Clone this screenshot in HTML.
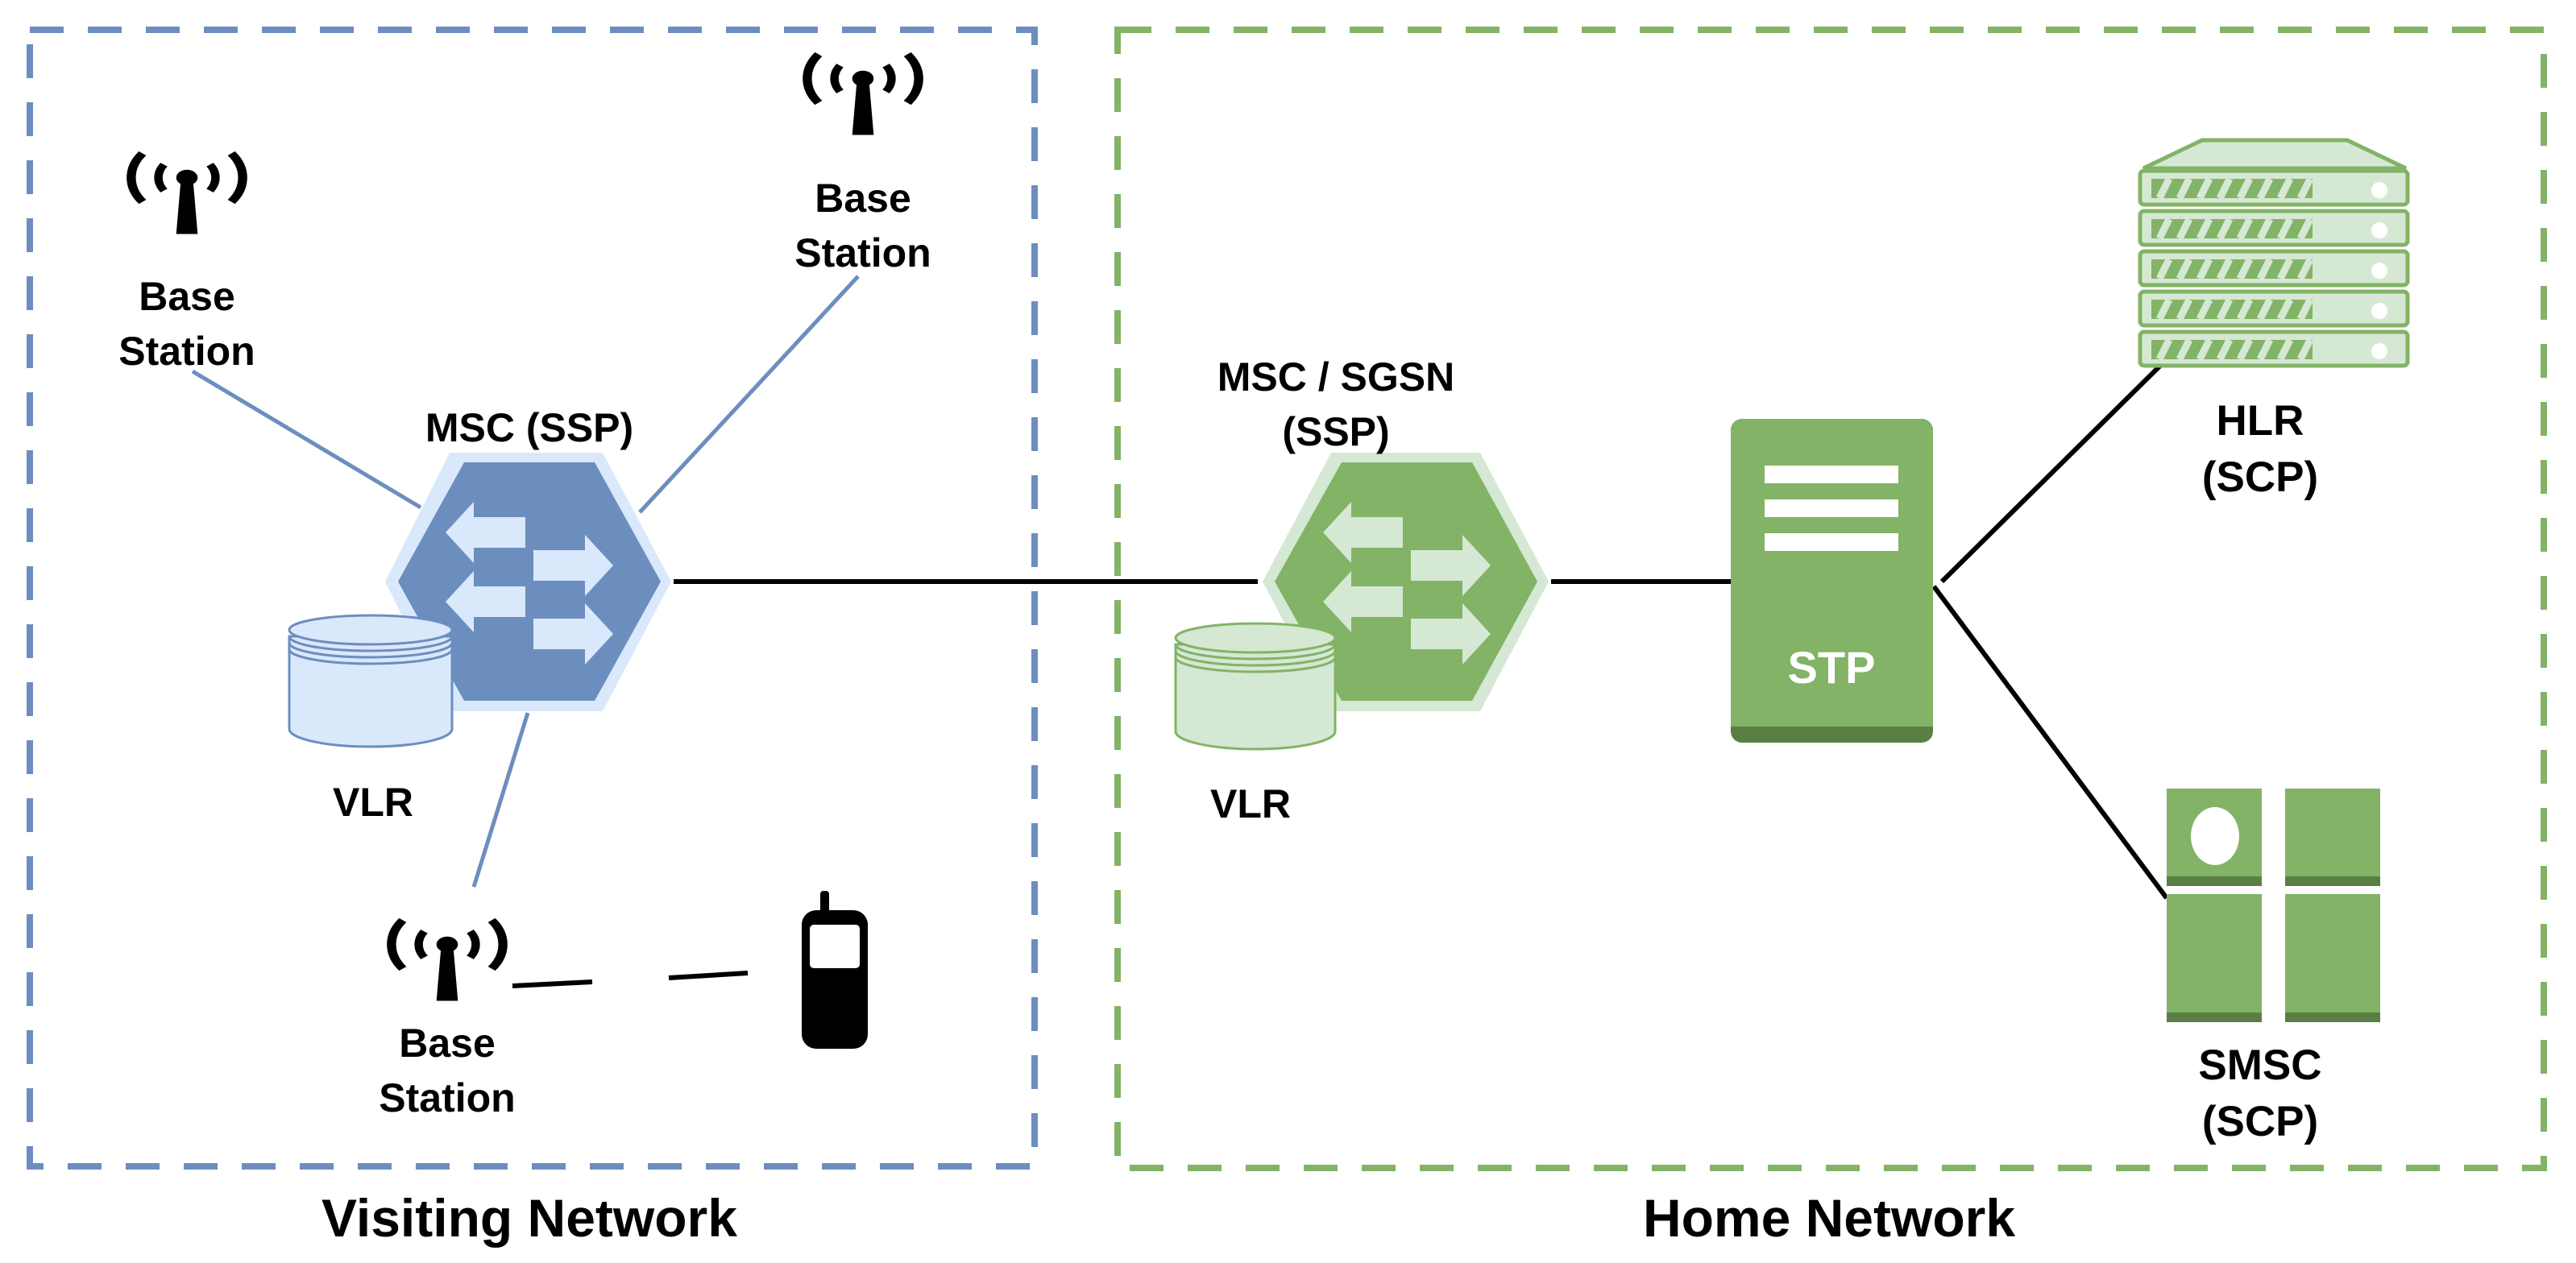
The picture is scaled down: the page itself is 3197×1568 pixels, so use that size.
<!DOCTYPE html>
<html><head><meta charset="utf-8"><style>
html,body{margin:0;padding:0;background:#fff;}
svg{display:block;}
text{font-family:"Liberation Sans",Arial,sans-serif;font-weight:bold;}
</style></head><body>
<svg width="3197" height="1568" viewBox="0 0 3197 1568" xmlns="http://www.w3.org/2000/svg">
<defs>
<g id="ant">
  <path d="M-8,0 L8,0 L14,95 L-14,95 Z" fill="#000"/>
  <circle cx="0" cy="-5" r="14" fill="#000"/>
  <path d="M-30,-28 A40,40 0 0 0 -30,18" fill="none" stroke="#000" stroke-width="11"/>
  <path d="M30,-28 A40,40 0 0 1 30,18" fill="none" stroke="#000" stroke-width="11"/>
  <path d="M-58,-48 A70,70 0 0 0 -58,38" fill="none" stroke="#000" stroke-width="12"/>
  <path d="M58,-48 A70,70 0 0 1 58,38" fill="none" stroke="#000" stroke-width="12"/>
</g>
</defs>

<rect x="37" y="37" width="1247" height="1411" fill="none" stroke="#6c8ebf" stroke-width="8" stroke-dasharray="42,30"/>
<rect x="1387" y="37" width="1770" height="1413" fill="none" stroke="#82b366" stroke-width="8" stroke-dasharray="42,30"/>

<line x1="239" y1="461" x2="522" y2="630" stroke="#6c8ebf" stroke-width="5"/>
<line x1="1065" y1="343" x2="794" y2="636" stroke="#6c8ebf" stroke-width="5"/>
<line x1="655" y1="885" x2="588" y2="1101" stroke="#6c8ebf" stroke-width="5"/>
<line x1="836" y1="722" x2="1561" y2="722" stroke="#000" stroke-width="6"/>
<line x1="1925" y1="722" x2="2150" y2="722" stroke="#000" stroke-width="6"/>
<line x1="2410" y1="722" x2="2683" y2="452" stroke="#000" stroke-width="6"/>
<line x1="2400" y1="728" x2="2689" y2="1115" stroke="#000" stroke-width="6"/>
<line x1="636" y1="1224" x2="735" y2="1219" stroke="#000" stroke-width="6"/>
<line x1="830" y1="1214" x2="928" y2="1208" stroke="#000" stroke-width="6"/>

<use href="#ant" transform="translate(232,224) scale(0.95,0.7)"/>
<use href="#ant" transform="translate(1071,101) scale(0.95,0.7)"/>
<use href="#ant" transform="translate(555,1176) scale(0.95,0.7)"/>

<polygon points="558,562 748,562 833,722 748,883 558,883 478,722" fill="#dae8fc"/>
<polygon points="576,574 738,574 820,722 738,870 576,870 494,722" fill="#6c8ebf"/>
<g fill="#dae8fc">
  <polygon points="553,661 588,623 588,642 652,642 652,680 588,680 588,699"/>
  <polygon points="553,747 588,709 588,728 652,728 652,766 588,766 588,785"/>
  <polygon points="761,702 726,664 726,683 662,683 662,721 726,721 726,740"/>
  <polygon points="761,787 726,749 726,768 662,768 662,806 726,806 726,825"/>
</g>
<path d="M359,790 L359,905 A101,22 0 0 0 561,905 L561,790 Z" fill="#dae8fc" stroke="#6c8ebf" stroke-width="3"/>
<ellipse cx="460" cy="782" rx="101" ry="18" fill="#dae8fc" stroke="#6c8ebf" stroke-width="3"/>
<path d="M359,790 A101,18 0 0 0 561,790 M359,798 A101,18 0 0 0 561,798 M359,806 A101,18 0 0 0 561,806" fill="none" stroke="#6c8ebf" stroke-width="3"/>

<polygon points="1652,562 1837,562 1922,722 1837,883 1652,883 1567,722" fill="#d5e8d4"/>
<polygon points="1665,574 1827,574 1908,722 1827,870 1665,870 1582,722" fill="#82b366"/>
<g fill="#d5e8d4">
  <polygon points="1642,661 1677,623 1677,642 1741,642 1741,680 1677,680 1677,699"/>
  <polygon points="1642,747 1677,709 1677,728 1741,728 1741,766 1677,766 1677,785"/>
  <polygon points="1850,702 1815,664 1815,683 1751,683 1751,721 1815,721 1815,740"/>
  <polygon points="1850,787 1815,749 1815,768 1751,768 1751,806 1815,806 1815,825"/>
</g>
<path d="M1459,800 L1459,908 A99,22 0 0 0 1657,908 L1657,800 Z" fill="#d5e8d4" stroke="#82b366" stroke-width="3"/>
<ellipse cx="1558" cy="792" rx="99" ry="18" fill="#d5e8d4" stroke="#82b366" stroke-width="3"/>
<path d="M1459,800 A99,18 0 0 0 1657,800 M1459,808 A99,18 0 0 0 1657,808 M1459,816 A99,18 0 0 0 1657,816" fill="none" stroke="#82b366" stroke-width="3"/>

<rect x="2148" y="520" width="251" height="402" rx="14" fill="#5a7f45"/>
<rect x="2148" y="520" width="251" height="382" rx="14" fill="#82b366"/>
<rect x="2148" y="880" width="251" height="22" fill="#82b366"/>
<rect x="2190" y="578" width="166" height="22" fill="#fff"/>
<rect x="2190" y="620" width="166" height="22" fill="#fff"/>
<rect x="2190" y="662" width="166" height="22" fill="#fff"/>
<text x="2273" y="848" font-size="56" fill="#fff" text-anchor="middle">STP</text>

<polygon points="2660,209 2733,174 2913,174 2986,209" fill="#d5e8d4" stroke="#82b366" stroke-width="5"/>
<g fill="#d5e8d4" stroke="#82b366" stroke-width="5">
  <rect x="2656" y="212" width="332" height="42" rx="5"/>
  <rect x="2656" y="262" width="332" height="42" rx="5"/>
  <rect x="2656" y="312" width="332" height="42" rx="5"/>
  <rect x="2656" y="362" width="332" height="42" rx="5"/>
  <rect x="2656" y="412" width="332" height="42" rx="5"/>
</g>
<g fill="#82b366">
  <rect x="2670" y="222" width="200" height="24"/>
  <rect x="2670" y="272" width="200" height="24"/>
  <rect x="2670" y="322" width="200" height="24"/>
  <rect x="2670" y="372" width="200" height="24"/>
  <rect x="2670" y="422" width="200" height="24"/>
</g>
<g stroke="#d5e8d4" stroke-width="9">
  <path d="M2680,246 l12,-24 M2705,246 l12,-24 M2730,246 l12,-24 M2755,246 l12,-24 M2780,246 l12,-24 M2805,246 l12,-24 M2830,246 l12,-24 M2855,246 l12,-24"/>
  <path d="M2680,296 l12,-24 M2705,296 l12,-24 M2730,296 l12,-24 M2755,296 l12,-24 M2780,296 l12,-24 M2805,296 l12,-24 M2830,296 l12,-24 M2855,296 l12,-24"/>
  <path d="M2680,346 l12,-24 M2705,346 l12,-24 M2730,346 l12,-24 M2755,346 l12,-24 M2780,346 l12,-24 M2805,346 l12,-24 M2830,346 l12,-24 M2855,346 l12,-24"/>
  <path d="M2680,396 l12,-24 M2705,396 l12,-24 M2730,396 l12,-24 M2755,396 l12,-24 M2780,396 l12,-24 M2805,396 l12,-24 M2830,396 l12,-24 M2855,396 l12,-24"/>
  <path d="M2680,446 l12,-24 M2705,446 l12,-24 M2730,446 l12,-24 M2755,446 l12,-24 M2780,446 l12,-24 M2805,446 l12,-24 M2830,446 l12,-24 M2855,446 l12,-24"/>
</g>
<g fill="#fff"><circle cx="2953" cy="236" r="10"/><circle cx="2953" cy="286" r="10"/><circle cx="2953" cy="336" r="10"/><circle cx="2953" cy="386" r="10"/><circle cx="2953" cy="436" r="10"/></g>

<rect x="2689" y="979" width="118" height="121" fill="#82b366"/>
<rect x="2689" y="1088" width="118" height="12" fill="#5a7f45"/>
<rect x="2836" y="979" width="118" height="121" fill="#82b366"/>
<rect x="2836" y="1088" width="118" height="12" fill="#5a7f45"/>
<rect x="2689" y="1110" width="118" height="159" fill="#82b366"/>
<rect x="2689" y="1257" width="118" height="12" fill="#5a7f45"/>
<rect x="2836" y="1110" width="118" height="159" fill="#82b366"/>
<rect x="2836" y="1257" width="118" height="12" fill="#5a7f45"/>
<ellipse cx="2749" cy="1038" rx="30" ry="36" fill="#fff"/>

<rect x="1018" y="1106" width="11" height="30" rx="4" fill="#000"/>
<rect x="995" y="1130" width="82" height="172" rx="18" fill="#000"/>
<rect x="1005" y="1148" width="62" height="54" rx="5" fill="#fff"/>

<g font-size="50" text-anchor="middle" fill="#000">
  <text x="232" y="385">Base</text><text x="232" y="453">Station</text>
  <text x="1071" y="263">Base</text><text x="1071" y="331">Station</text>
  <text x="555" y="1312">Base</text><text x="555" y="1380">Station</text>
  <text x="657" y="548">MSC (SSP)</text>
  <text x="463" y="1013">VLR</text>
  <text x="1658" y="485">MSC / SGSN</text><text x="1658" y="553">(SSP)</text>
  <text x="1552" y="1015">VLR</text>
  <text x="2805" y="540" font-size="53">HLR</text><text x="2805" y="610" font-size="53">(SCP)</text>
  <text x="2805" y="1340" font-size="53">SMSC</text><text x="2805" y="1410" font-size="53">(SCP)</text>
</g>
<text x="657" y="1535" font-size="66" text-anchor="middle">Visiting Network</text>
<text x="2270" y="1535" font-size="66" text-anchor="middle">Home Network</text>
</svg>
</body></html>
